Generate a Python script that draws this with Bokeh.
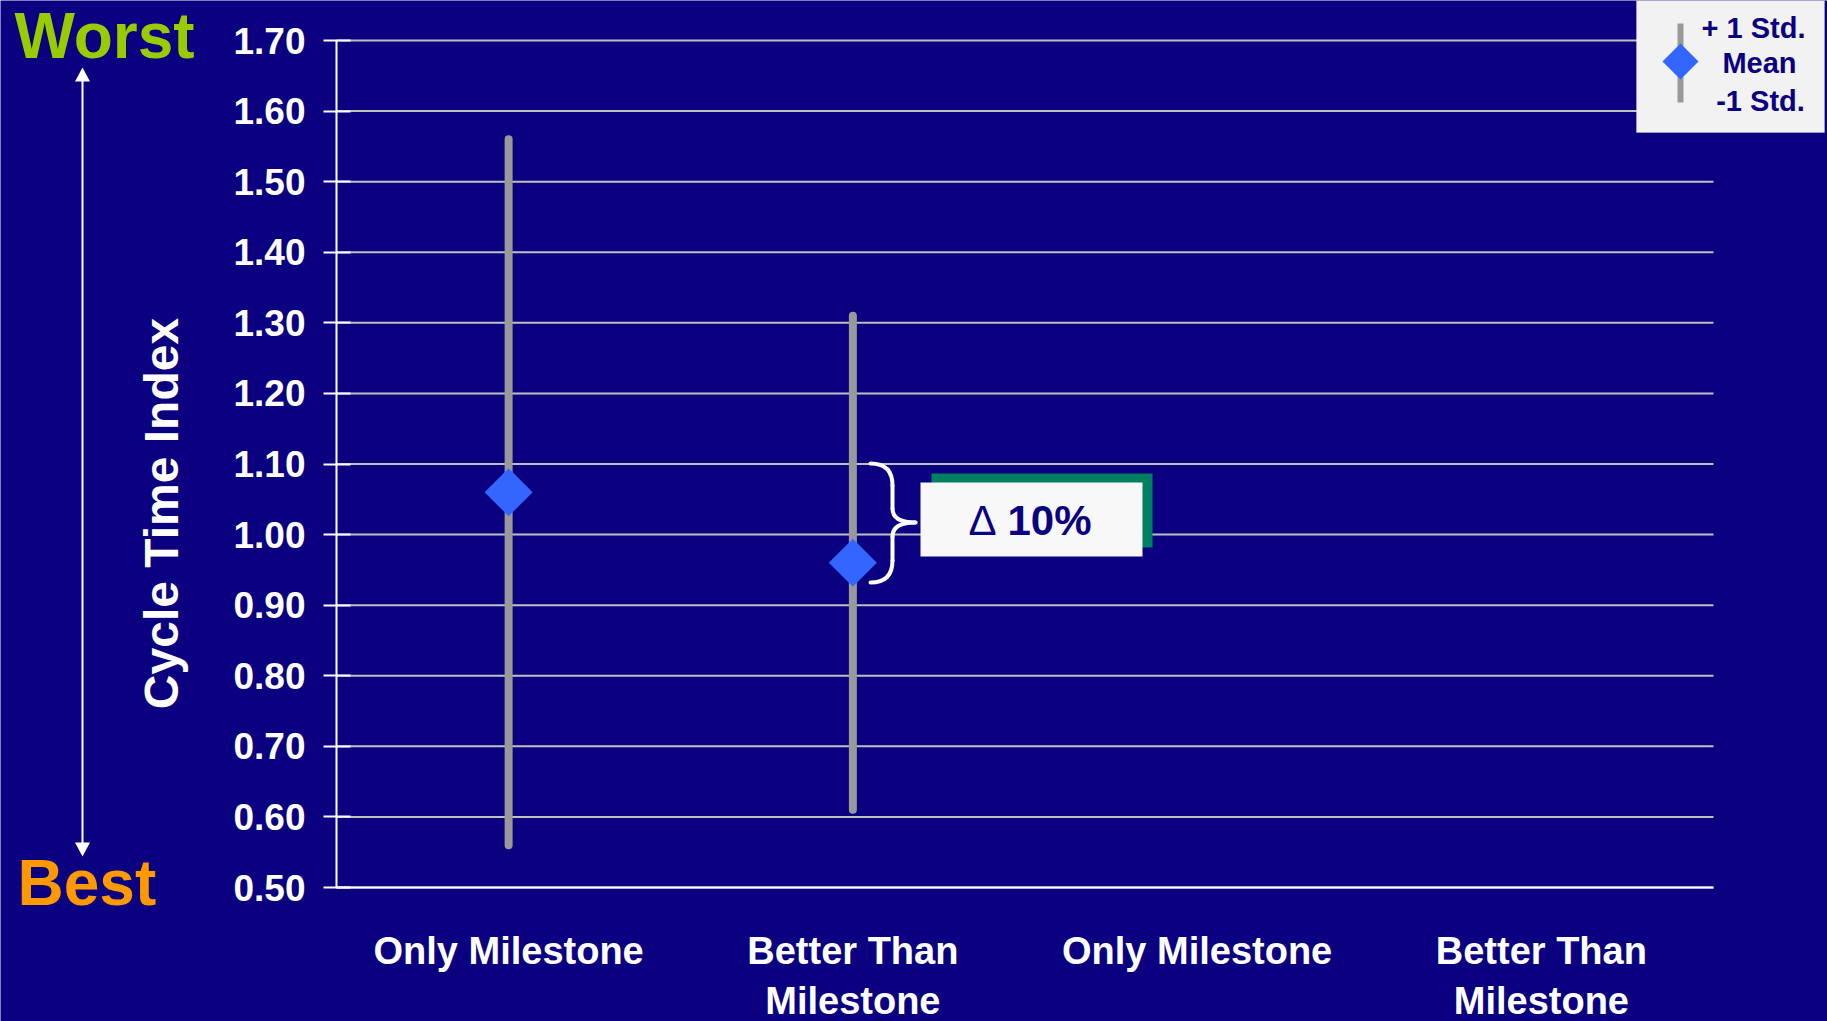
import numpy as np
from bokeh.plotting import figure
from bokeh.models import (Range1d, LinearAxis, FixedTicker, PrintfTickFormatter,
                          Label, PolyAnnotation, ColumnDataSource)
from bokeh.embed import file_html
from bokeh.resources import INLINE

# ---- data -------------------------------------------------------------
categories = ["Only Milestone", "Better Than\nMilestone",
              "Only Milestone", "Better Than\nMilestone"]
mean_index = [1.06, 0.96]          # mean cycle time index (first two groups)
std_dev = [0.50, 0.35]             # one standard deviation
y_ticks = [0.50, 0.60, 0.70, 0.80, 0.90, 1.00, 1.10,
           1.20, 1.30, 1.40, 1.50, 1.60, 1.70]
delta_text = "10%"
legend_texts = ["+ 1 Std.", "Mean", "-1 Std."]

# ---- style ------------------------------------------------------------
NAVY = "#0A0080"
BLUE = "#3366FF"
GREY = "#999999"
GRID = "#BFBFBF"
GREEN = "#99CC00"
ORANGE = "#FF9900"
FONT = "Liberation Sans"

W, H = 1827, 1021
# plotting area inside the canvas (pixels)
LEFT, RIGHT, TOP, BOTTOM = 336, 1713, 40, 887
Y0, Y1 = y_ticks[0], y_ticks[-1]
NX = len(categories)


# canvas pixel -> data coordinates (used for annotation placement)
def dx(px):
    return (px - LEFT) / (RIGHT - LEFT) * NX


def dy(py):
    return Y1 - (py - TOP) / (BOTTOM - TOP) * (Y1 - Y0)


# The frame spans the whole canvas so that the side decorations (scale
# arrow, legend, title) can live in data space next to the chart.
p = figure(width=W, height=H, output_backend="svg", toolbar_location=None,
           x_range=Range1d(dx(0), dx(W)), y_range=Range1d(dy(H), dy(0)),
           x_axis_type=None, y_axis_type=None,
           min_border=0, background_fill_color=NAVY, border_fill_color=NAVY,
           outline_line_color=None)

# ---- grid lines -----------------------------------------------------------
p.segment(x0=[0] * len(y_ticks), x1=[NX] * len(y_ticks), y0=y_ticks, y1=y_ticks,
          line_color=GRID, line_width=2, level="underlay")

# ---- axes ---------------------------------------------------------------
x_pos = [i + 0.5 for i in range(NX)]
xa = LinearAxis(fixed_location=Y0, bounds=(0, NX))
xa.ticker = FixedTicker(ticks=x_pos)
xa.major_label_overrides = {x: c for x, c in zip(x_pos, categories)}
xa.axis_line_color = "white"
xa.axis_line_width = 2
xa.major_tick_line_color = None
xa.minor_tick_line_color = None
xa.major_tick_out = 0
xa.major_tick_in = 0
xa.major_label_standoff = 42
xa.major_label_text_font = FONT
xa.major_label_text_font_style = "bold"
xa.major_label_text_font_size = "38px"
xa.major_label_text_color = "white"
xa.major_label_text_line_height = 1.2
p.add_layout(xa, "below")

ya = LinearAxis(fixed_location=0, bounds=(Y0, Y1))
ya.ticker = FixedTicker(ticks=y_ticks)
ya.formatter = PrintfTickFormatter(format="%.2f")
ya.axis_line_color = "white"
ya.axis_line_width = 2
ya.major_tick_line_color = "white"
ya.major_tick_line_width = 2
ya.major_tick_in = 14
ya.major_tick_out = 13
ya.minor_tick_line_color = None
ya.major_label_standoff = 18
ya.major_label_text_font = FONT
ya.major_label_text_font_style = "bold"
ya.major_label_text_font_size = "37px"
ya.major_label_text_color = "white"
p.add_layout(ya, "left")

# ---- error bars and means ------------------------------------------------
n = len(mean_index)
src = ColumnDataSource(dict(
    x=x_pos[:n],
    mean=mean_index,
    lo=[m - s for m, s in zip(mean_index, std_dev)],
    hi=[m + s for m, s in zip(mean_index, std_dev)],
))
p.segment(x0="x", y0="lo", x1="x", y1="hi", source=src,
          line_color=GREY, line_width=8, line_cap="round")
p.scatter(x="x", y="mean", source=src, marker="square", angle=np.pi / 4,
          size=34, fill_color=BLUE, line_color=None)

# ---- brace pointing at the difference box --------------------------------
bx0, bxm, bxt = 870, 892, 915
bt, bmid, bb = 463, 522, 582
q = dict(
    x0=[dx(bx0), dx(bxm), dx(bxt), dx(bxm)],
    y0=[dy(bt), dy(bmid - 14), dy(bmid), dy(bmid + 38)],
    x1=[dx(bxm), dx(bxt), dx(bxm), dx(bx0)],
    y1=[dy(bt + 22), dy(bmid), dy(bmid + 14), dy(bb)],
    cx=[dx(bxm), dx(bxm), dx(bxm), dx(bxm)],
    cy=[dy(bt), dy(bmid), dy(bmid), dy(bb)],
)
p.quadratic(x0="x0", y0="y0", x1="x1", y1="y1", cx="cx", cy="cy",
            source=ColumnDataSource(q), line_color="white", line_width=4,
            line_cap="round")
p.segment(x0=[dx(bxm), dx(bxm)], y0=[dy(bt + 22), dy(bmid + 14)],
          x1=[dx(bxm), dx(bxm)], y1=[dy(bmid - 14), dy(bmid + 38)],
          line_color="white", line_width=4, line_cap="round")

# ---- difference box with shadow -------------------------------------------
p.quad(left=[dx(931)], right=[dx(1152)], top=[dy(473)], bottom=[dy(547)],
       fill_color="#008060", line_color=None)
p.quad(left=[dx(920)], right=[dx(1142)], top=[dy(482)], bottom=[dy(556)],
       fill_color="#F8F8F8", line_color=None)
p.add_layout(Label(x=dx(982), y=dy(520), text="Δ", text_align="center",
                   text_baseline="middle", text_font=FONT,
                   text_font_size="42px", text_color=NAVY))
p.add_layout(Label(x=dx(1007), y=dy(520), text=delta_text, text_align="left",
                   text_baseline="middle", text_font=FONT,
                   text_font_style="bold", text_font_size="42px",
                   text_color=NAVY))


def poly(xs_px, ys_px, color, line_color=None):
    return PolyAnnotation(xs=[dx(v) for v in xs_px], ys=[dy(v) for v in ys_px],
                          fill_color=color, fill_alpha=1,
                          line_color=line_color, line_width=1)


# ---- legend ------------------------------------------------------------
p.add_layout(poly([1636, 1824, 1824, 1636], [0, 0, 132, 132], "#F2F2F2",
                  "#DDDDDD"))
p.add_layout(poly([1677, 1683, 1683, 1677], [23, 23, 102, 102], GREY))
p.add_layout(poly([1662, 1680, 1698, 1680], [61, 43, 61, 79], BLUE))
for txt, cx, cy in zip(legend_texts, [1753, 1759, 1760], [27, 62, 100]):
    p.add_layout(Label(x=dx(cx), y=dy(cy), text=txt, text_align="center",
                       text_baseline="middle", text_font=FONT,
                       text_font_style="bold", text_font_size="29px",
                       text_color=NAVY))

# ---- worst / best scale and axis title --------------------------------------
p.add_layout(Label(x=dx(14), y=dy(35), text="Worst", text_align="left",
                   text_baseline="middle", text_font=FONT,
                   text_font_style="bold", text_font_size="64px",
                   text_color=GREEN))
p.add_layout(Label(x=dx(17), y=dy(882), text="Best", text_align="left",
                   text_baseline="middle", text_font=FONT,
                   text_font_style="bold", text_font_size="64px",
                   text_color=ORANGE))
p.segment(x0=[dx(82)], y0=[dy(78)], x1=[dx(82)], y1=[dy(845)],
          line_color="white", line_width=2)
p.add_layout(poly([74.5, 82, 89.5], [81, 67, 81], "white"))
p.add_layout(poly([74.5, 82, 89.5], [842, 856, 842], "white"))
p.add_layout(Label(x=dx(161), y=dy(513), text="Cycle Time Index",
                   angle=np.pi / 2, text_align="center",
                   text_baseline="middle", text_font=FONT,
                   text_font_style="bold", text_font_size="48px",
                   text_color="white"))

open("out.html", "w").write(file_html(p, INLINE))
